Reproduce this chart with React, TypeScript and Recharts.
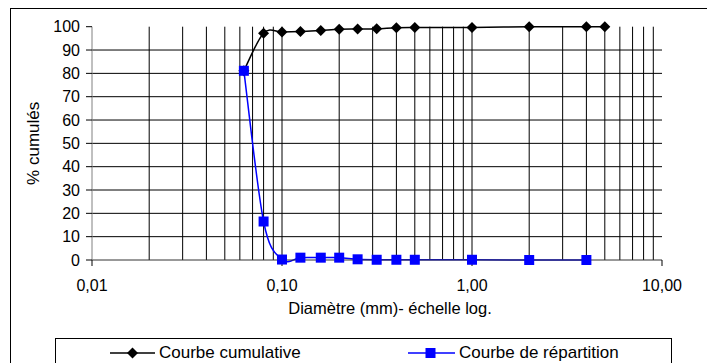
import React from "react";
import {
  ComposedChart,
  Line,
  XAxis,
  YAxis,
  ReferenceLine,
  Label,
} from "recharts";

// Sieve openings (mm) and passing percentages
const diameters = [0.063, 0.08, 0.1, 0.125, 0.16, 0.2, 0.25, 0.315, 0.4, 0.5, 1, 2, 4, 5];
const cumulative = [81.1, 97.2, 97.7, 97.9, 98.4, 98.9, 99.0, 99.1, 99.6, 99.7, 99.7, 100, 100, 100];
const repartition = [81.1, 16.5, 0.2, 1.0, 1.0, 1.0, 0.3, 0.1, 0.1, 0.1, 0.1, 0, 0, null];

const xTicks = [0.01, 0.1, 1, 10];
const yTicks = [0, 10, 20, 30, 40, 50, 60, 70, 80, 90, 100];
const gridX = [
  0.02, 0.03, 0.04, 0.05, 0.06, 0.07, 0.08, 0.09,
  0.1, 0.2, 0.3, 0.4, 0.5, 0.6, 0.7, 0.8, 0.9,
  1, 2, 3, 4, 5, 6, 7, 8, 9,
];
const gridY = [10, 20, 30, 40, 50, 60, 70, 80, 90];

const data = diameters.map((d, i) => ({
  d,
  cumul: cumulative[i],
  repart: repartition[i],
}));

const FONT = "'Liberation Sans', Arial, sans-serif";
const BLUE = "#0000ff";

// Excel-style smoothed line (Catmull-Rom through every point)
const smooth = (context: any) => {
  let pts: [number, number][] = [];
  return {
    areaStart() {},
    areaEnd() {},
    lineStart() {
      pts = [];
    },
    lineEnd() {
      if (!pts.length) return;
      context.moveTo(pts[0][0], pts[0][1]);
      for (let i = 0; i < pts.length - 1; i++) {
        const p0 = pts[Math.max(0, i - 1)];
        const p1 = pts[i];
        const p2 = pts[i + 1];
        const p3 = pts[Math.min(pts.length - 1, i + 2)];
        context.bezierCurveTo(
          p1[0] + (p2[0] - p0[0]) / 6,
          p1[1] + (p2[1] - p0[1]) / 6,
          p2[0] - (p3[0] - p1[0]) / 6,
          p2[1] - (p3[1] - p1[1]) / 6,
          p2[0],
          p2[1]
        );
      }
    },
    point(x: number, y: number) {
      pts.push([+x, +y]);
    },
  };
};

const Diamond = (props: any) => {
  const { cx, cy, index } = props;
  if (cx == null || cy == null) return <g key={`dm-${index}`} />;
  const r = 5.5;
  return (
    <polygon
      key={`dm-${index}`}
      points={`${cx},${cy - r} ${cx + r},${cy} ${cx},${cy + r} ${cx - r},${cy}`}
      fill="#000"
    />
  );
};

const Square = (props: any) => {
  const { cx, cy, index } = props;
  if (cx == null || cy == null) return <g key={`sq-${index}`} />;
  return <rect key={`sq-${index}`} x={cx - 5} y={cy - 5} width={10} height={10} fill={BLUE} />;
};

const fmt = (v: number) => v.toFixed(2).replace(".", ",");

export default function App() {
  return (
    <div
      style={{
        position: "fixed",
        left: 0,
        top: 0,
        width: 707,
        height: 363,
        overflow: "hidden",
        background: "#fff",
        fontFamily: FONT,
      }}
    >
      {/* chart frame */}
      <div
        style={{
          position: "absolute",
          left: 10,
          top: 8,
          width: 720,
          height: 400,
          borderLeft: "1px solid #000",
          borderTop: "1px solid #000",
        }}
      />
      <div style={{ position: "absolute", left: 0, top: 0 }}>
        <ComposedChart
          width={707}
          height={363}
          data={data}
          margin={{ top: 26.7, right: 45, bottom: 73, left: 32 }}
        >
          {gridY.map((v) => (
            <ReferenceLine key={`gy-${v}`} y={v} stroke="#000" strokeWidth={1} />
          ))}
          {gridX.map((v) => (
            <ReferenceLine key={`gx-${v}`} x={v} stroke="#000" strokeWidth={1} />
          ))}
          <XAxis
            dataKey="d"
            type="number"
            scale="log"
            domain={[0.01, 10]}
            ticks={xTicks}
            allowDataOverflow
            tickFormatter={fmt}
            height={30}
            tickSize={6}
            tickMargin={14}
            axisLine={{ stroke: "#333" }}
            tickLine={{ stroke: "#000" }}
            tick={{ fontSize: 16, fill: "#000", fontFamily: FONT }}
          >
            <Label
              content={({ viewBox }: any) => (
                <text
                  x={viewBox.x + viewBox.width / 2 + 13}
                  y={viewBox.y + 54}
                  textAnchor="middle"
                  fontSize={16.5}
                  fontFamily={FONT}
                  fill="#000"
                >
                  Diamètre (mm)- échelle log.
                </text>
              )}
            />
          </XAxis>
          <YAxis
            type="number"
            domain={[0, 100]}
            ticks={yTicks}
            width={60}
            tickSize={6}
            tickMargin={6}
            axisLine={{ stroke: "#808080" }}
            tickLine={{ stroke: "#000" }}
            tick={{ fontSize: 16, fill: "#000", fontFamily: FONT }}
          >
            <Label
              content={({ viewBox }: any) => {
                const x = viewBox.x + 7;
                const y = viewBox.y + viewBox.height / 2;
                return (
                  <text
                    x={x}
                    y={y}
                    transform={`rotate(-90 ${x} ${y})`}
                    textAnchor="middle"
                    fontSize={17}
                    fontFamily={FONT}
                    fill="#000"
                  >
                    % cumulés
                  </text>
                );
              }}
            />
          </YAxis>
          <Line
            dataKey="cumul"
            name="Courbe cumulative"
            type={smooth as any}
            stroke="#000"
            strokeWidth={1.5}
            dot={Diamond}
            activeDot={false}
            isAnimationActive={false}
          />
          <Line
            dataKey="repart"
            name="Courbe de répartition"
            type={smooth as any}
            stroke={BLUE}
            strokeWidth={1.5}
            dot={Square}
            activeDot={false}
            isAnimationActive={false}
          />
        </ComposedChart>
      </div>
      {/* legend */}
      <div
        style={{
          position: "absolute",
          left: 55,
          top: 338,
          width: 615,
          height: 40,
          border: "1px solid #000",
          fontSize: 17,
        }}
      >
        <svg width={60} height={20} style={{ position: "absolute", left: 54, top: 4 }}>
          <line x1={0} y1={10} x2={45} y2={10} stroke="#000" strokeWidth={1.5} />
          <polygon points="22.5,4.5 28,10 22.5,15.5 17,10" fill="#000" />
        </svg>
        <span style={{ position: "absolute", left: 103, top: 4, lineHeight: "20px" }}>
          Courbe cumulative
        </span>
        <svg width={60} height={20} style={{ position: "absolute", left: 352, top: 4 }}>
          <line x1={0} y1={10} x2={47} y2={10} stroke={BLUE} strokeWidth={1.5} />
          <rect x={17.5} y={5} width={10} height={10} fill={BLUE} />
        </svg>
        <span style={{ position: "absolute", left: 403, top: 4, lineHeight: "20px" }}>
          Courbe de répartition
        </span>
      </div>
    </div>
  );
}
